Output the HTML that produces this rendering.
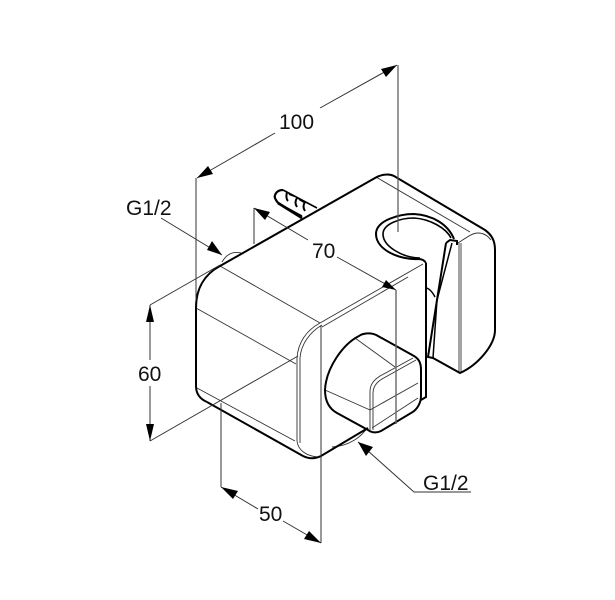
<!DOCTYPE html>
<html><head><meta charset="utf-8"><style>
html,body{margin:0;padding:0;background:#fff}
svg{display:block}
text{font-family:"Liberation Sans",Arial,sans-serif;font-size:21px;fill:#111}
</style></head><body>
<svg width="615" height="600" viewBox="0 0 615 600" xmlns="http://www.w3.org/2000/svg">
<!-- thin interior edges -->
<g fill="none" stroke="#333" stroke-width="0.9">
<path d="M220,266 L320,323"/>
<path d="M196,308 L296,364"/>
<path d="M197,388 L295,441"/>
<path d="M320,323 L423,264"/>
<path d="M322,327 L408,277"/>
<path d="M297,441 V358 C298,342 307,330 320,323"/>
<path d="M300,443 V358 C301,344 310,332 322,325"/>
<path d="M297,441 C298,450 306,456 318,457"/>
<path d="M376,177 L470,232"/>
<path d="M458,243 C466,238 472,233 478,233 C484,233 488,236 491,240"/>
<path d="M459,243 V372"/>
<path d="M461,243 V372"/>
<path d="M355,338 L395,367"/>
<path d="M325,390 L370,410"/>
<path d="M370,410 L418,383"/>
<path d="M372,428 L418,398"/>
<path d="M370,430 V392 C370,384 374,380 380,376 L413,358"/>
<path d="M373,430 V393 C373,386 377,382 382,379 L416,360"/>
<path d="M367,428 C362,436 350,446 332,447"/>
<path d="M222,262 C226,255 232,251 241,253"/>
</g>
<!-- bolt -->
<g fill="none" stroke="#000">
<path d="M283,190 L317,208" stroke-width="1.6"/>
<path d="M280,204 L302,216" stroke-width="1.5"/>
<path d="M283,190 C276,190 273,196 276,200 C277,202 279,204 280,204" stroke-width="2.2"/>
<path d="M278,203 L302,218" stroke-width="2.8"/>
<path d="M287,192 C286,196 286,199 288,201 M297,198 C295,201 295,204 297,207 M305,202 C303,205 303,208 305,211" stroke-width="2"/>
<path d="M289,194 L294,196 M299,199 L304,202" stroke-width="2"/>
</g>
<!-- outer body -->
<g fill="none" stroke="#000" stroke-width="2">
<path d="M196,308 C196,288 205,274 220,266 L375,178 C380,175 388,173 394,176 L485,230 C492,235 495,241 495,250 L495,330 C495,345 478,365 460,373 L433,358 L428,357 L446,243"/>
<path d="M207,402 C200,399 196,394 196,386 L196,308"/>
<path d="M207,402 L303,456 C309,459 315,459 321,456 L368,428"/>
<path d="M426,263 V397 L421,400"/>
<path d="M426,263 C424,260 422,259 418,259 C400,260 376,250 376,234 C376,220 400,214 414,214 C432,215 448,224 454,239"/>
<path d="M420,258 C404,258 383,247 383,234 C383,224 400,218 414,218 C430,219 446,228 451,238" stroke-width="1.6"/>
<path d="M446,243 L450,240 L457,241 V245"/>
<path d="M452,243 L437,300 L433,358" stroke-width="1.5"/>
<path d="M427,288 C431,290 433,293 435,297" stroke-width="1.5"/>
<path d="M337,413 C328,408 325,400 325,390 C326,368 343,344 359,336 C363,333 372,332 378,336 L414,356 C419,359 421,363 421,370 L421,396 C421,403 417,410 411,413 L381,431 C377,433 372,433 368,430 Z"/>
</g>
<!-- dimension lines -->
<g fill="none" stroke="#333" stroke-width="1">
<path d="M196,178 V300"/>
<path d="M398,65 V232" stroke="#555" stroke-width="1.2"/>
<path d="M197,178 L275,133 M320,108 L397,65"/>
<path d="M254,208 V244" stroke="#555" stroke-width="1.2"/>
<path d="M396,290 V424" stroke="#666" stroke-width="1.4"/>
<path d="M254,208 L308,240 M337,257 L396,290"/>
<path d="M150,305 L220,265"/>
<path d="M150,441 L298,356"/>
<path d="M150,305 V360 M150,386 V441"/>
<path d="M221,403 V487"/>
<path d="M321,325 V543"/>
<path d="M221,487 L258,509 M283,521 L321,543"/>
<path d="M161,218 L222,255"/>
<path d="M358,442 L414,492 H471"/>
</g>
<!-- arrowheads -->
<g fill="#000">
<polygon points="197,178 208,166 213,174"/>
<polygon points="397,65 386,77 381,69"/>
<polygon points="254,208 270,212 265,220"/>
<polygon points="396,290 382,287 386,280"/>
<polygon points="150,305 146,322 154,322"/>
<polygon points="150,441 146,424 154,424"/>
<polygon points="221,487 238,491 233,499"/>
<polygon points="321,543 304,539 309,531"/>
<polygon points="222,255 207,250 212,241"/>
<polygon points="358,442 373,447 366,456"/>
</g>
<text x="279" y="129">100</text>
<text x="312" y="258">70</text>
<text x="138" y="381">60</text>
<text x="259" y="521">50</text>
<text x="126" y="215">G1/2</text>
<text x="423" y="490">G1/2</text>
</svg>
</body></html>
